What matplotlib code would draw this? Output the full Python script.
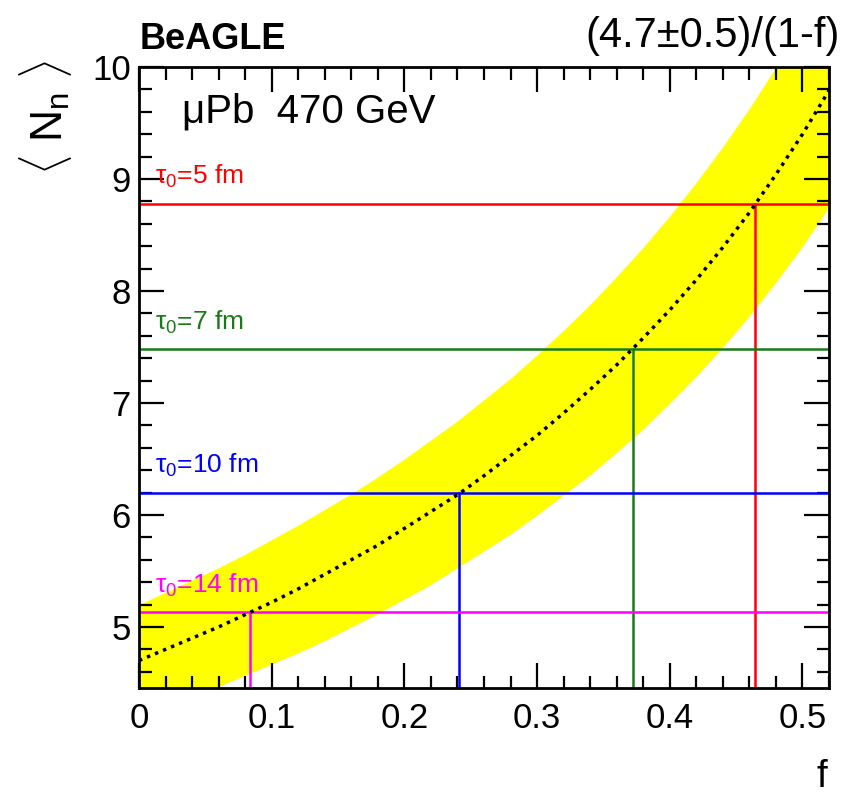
import numpy as np
import matplotlib.pyplot as plt
from matplotlib.ticker import MultipleLocator

plt.rcParams['font.family'] = ['Liberation Sans', 'DejaVu Sans']
plt.rcParams['mathtext.fontset'] = 'custom'
plt.rcParams['mathtext.rm'] = 'Liberation Sans'
plt.rcParams['mathtext.it'] = 'Liberation Sans'

# values
f_pts = [0.00, 0.02, 0.04, 0.06, 0.08, 0.10, 0.12, 0.14, 0.16, 0.18, 0.20, 0.22, 0.24, 0.26,
         0.28, 0.30, 0.32, 0.34, 0.36, 0.38, 0.40, 0.42, 0.44, 0.46, 0.48, 0.50, 0.52]
n_mean = [4.70, 4.80, 4.90, 5.00, 5.11, 5.22, 5.34, 5.47, 5.60, 5.73, 5.88, 6.03, 6.18, 6.35,
          6.53, 6.71, 6.91, 7.12, 7.34, 7.58, 7.83, 8.10, 8.39, 8.70, 9.04, 9.40, 9.79]
n_low = [4.20, 4.29, 4.38, 4.47, 4.57, 4.67, 4.77, 4.88, 5.00, 5.12, 5.25, 5.38, 5.53, 5.68,
         5.83, 6.00, 6.18, 6.36, 6.56, 6.77, 7.00, 7.24, 7.50, 7.78, 8.08, 8.40, 8.75]
n_high = [5.20, 5.31, 5.42, 5.53, 5.65, 5.78, 5.91, 6.05, 6.19, 6.34, 6.50, 6.67, 6.84, 7.03,
          7.22, 7.43, 7.65, 7.88, 8.13, 8.39, 8.67, 8.97, 9.29, 9.63, 10.00, 10.40, 10.83]

tau_labels = ['τ$_{0}$=5 fm', 'τ$_{0}$=7 fm', 'τ$_{0}$=10 fm', 'τ$_{0}$=14 fm']
tau_n = [8.78, 7.48, 6.20, 5.13]
tau_f = [0.464, 0.372, 0.241, 0.084]
tau_colors = ['#ff0000', '#1a7a1a', '#0000ff', '#ff00ff']

xmin, xmax = 0.0, 0.52
ymin, ymax = 4.455, 10.0

fig = plt.figure(figsize=(8.52, 7.95), dpi=100)
ax = fig.add_axes([139 / 852, 1 - 688 / 795, (829 - 139) / 852, (688 - 67) / 795])

ax.fill_between(f_pts, n_low, n_high, color='#ffff00', lw=0, zorder=1)
ax.plot(f_pts, n_mean, color='black', ls=(0, (1, 1.5)), lw=2.5, zorder=3)

for lab, n, fv, c in zip(tau_labels, tau_n, tau_f, tau_colors):
    ax.axhline(n, color=c, lw=1.8, zorder=2)
    ax.plot([fv, fv], [ymin, n], color=c, lw=1.8, zorder=2)
    ax.text(0.012, n + 0.12, lab, color=c, fontsize=19, ha='left', va='bottom', zorder=4)

ax.set_xlim(xmin, xmax)
ax.set_ylim(ymin, ymax)
ax.xaxis.set_major_locator(MultipleLocator(0.1))
ax.xaxis.set_minor_locator(MultipleLocator(0.02))
ax.yaxis.set_major_locator(MultipleLocator(1))
ax.yaxis.set_minor_locator(MultipleLocator(0.2))
ax.xaxis.set_major_formatter(plt.FuncFormatter(lambda v, p: '0' if abs(v) < 1e-9 else f'{v:g}'))
ax.tick_params(which='both', direction='in', top=True, right=True, width=1.6, labelsize=25)
ax.tick_params(which='major', length=18)
ax.tick_params(which='minor', length=9)
ax.tick_params(axis='x', pad=10)
ax.tick_params(axis='y', pad=6)
for s in ax.spines.values():
    s.set_linewidth(2)

ax.text(182 / 852, 1 - 123 / 795, 'μPb  470 GeV', transform=fig.transFigure, fontsize=29,
        ha='left', va='baseline')
fig.text(140 / 852, 1 - 49 / 795, 'BeAGLE', fontsize=26, fontweight='bold', ha='left', va='baseline')
fig.text(840 / 852, 1 - 47 / 795, '(4.7±0.5)/(1-f)', fontsize=30, ha='right', va='baseline')
fig.text(46 / 852, 1 - 117 / 795, r'$\langle$ N$_{\rm n}$ $\rangle$', fontsize=32,
         rotation=90, ha='center', va='center')
fig.text(822 / 852, 1 - 787 / 795, 'f', fontsize=28, ha='center', va='baseline')

fig.savefig('out.png', dpi=100)
